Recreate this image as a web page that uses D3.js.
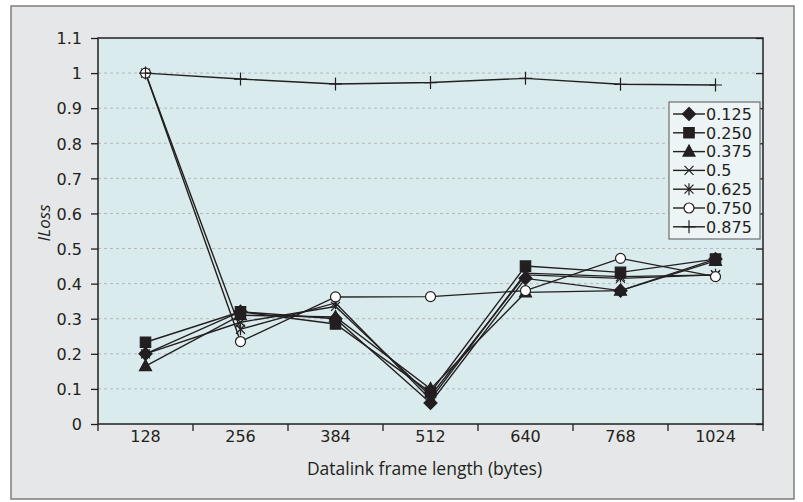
<!DOCTYPE html>
<html>
<head>
<meta charset="utf-8">
<script src="https://cdn.jsdelivr.net/npm/d3@7"></script>
<style>
  body { margin: 0; background: #fff; }
  text { font-family: "Open Sans", "Noto Sans", sans-serif; fill: #231f20; }
  .num { font-family: "DejaVu Sans", sans-serif; }
</style>
</head>
<body>
<div id="chart"></div>
<script>
// frame lengths on the x axis
var frameLengths = ["128", "256", "384", "512", "640", "768", "1024"];
var seriesNames = ["0.125", "0.250", "0.375", "0.5", "0.625", "0.750", "0.875"];
var markerKinds = ["diamond", "square", "triangle", "times", "star", "circle", "plus"];

// ILoss values per series
var s0125 = [0.20, 0.32, 0.30, 0.06, 0.415, 0.38, 0.47];
var s0250 = [0.233, 0.32, 0.285, 0.09, 0.45, 0.432, 0.47];
var s0375 = [0.165, 0.31, 0.305, 0.10, 0.375, 0.38, 0.465];
var s0500 = [0.20, 0.29, 0.335, 0.08, 0.425, 0.415, 0.425];
var s0625 = [1.0, 0.27, 0.345, 0.07, 0.43, 0.42, 0.425];
var s0750 = [1.0, 0.235, 0.362, 0.363, 0.38, 0.472, 0.42];
var s0875 = [1.0, 0.983, 0.969, 0.973, 0.985, 0.968, 0.966];
var seriesValues = [s0125, s0250, s0375, s0500, s0625, s0750, s0875];

var yTicks = [0, 0.1, 0.2, 0.3, 0.4, 0.5, 0.6, 0.7, 0.8, 0.9, 1, 1.1];

var W = 803, H = 502;
var plot = {left: 98, right: 763, top: 38, bottom: 424};
var ink = "#231f20";

var svg = d3.select("#chart").append("svg")
    .attr("width", W)
    .attr("height", H);

// outer grey panel
svg.append("rect")
    .attr("x", 11).attr("y", 6)
    .attr("width", 783).attr("height", 493)
    .attr("fill", "#e6e7e8")
    .attr("stroke", "#7d7d7d")
    .attr("stroke-width", 1.5);

var x = d3.scaleBand()
    .domain(frameLengths)
    .range([plot.left, plot.right]);

var y = d3.scaleLinear()
    .domain([0, 1.1])
    .range([plot.bottom, plot.top]);

// plot background
svg.append("rect")
    .attr("x", plot.left).attr("y", plot.top)
    .attr("width", plot.right - plot.left)
    .attr("height", plot.bottom - plot.top)
    .attr("fill", "#daebee");

// dotted grid lines
svg.append("g").selectAll("line")
    .data(yTicks.filter(function(d){ return d > 0 && d < 1.1; }))
    .enter().append("line")
    .attr("x1", plot.left).attr("x2", plot.right)
    .attr("y1", function(d){ return y(d); })
    .attr("y2", function(d){ return y(d); })
    .attr("stroke", "#b4b9bb")
    .attr("stroke-width", 1)
    .attr("stroke-dasharray", "3,3");

// left axis
var yAxis = d3.axisLeft(y).tickValues(yTicks).tickSize(7).tickPadding(9)
    .tickFormat(function(d){ return d3.format("~g")(d); });
var gy = svg.append("g")
    .attr("transform", "translate(" + plot.left + ",0)")
    .call(yAxis);
gy.select(".domain").remove();
gy.selectAll(".tick line").attr("stroke", ink).attr("stroke-width", 1.3);
gy.selectAll(".tick text").attr("class", "num").style("font-size", "16px").attr("fill", ink).attr("dy", "0.36em");

// right axis, ticks pointing in
var gr = svg.append("g")
    .attr("transform", "translate(" + plot.right + ",0)")
    .call(d3.axisLeft(y).tickValues(yTicks).tickSize(7).tickFormat(""));
gr.select(".domain").remove();
gr.selectAll(".tick line").attr("stroke", ink).attr("stroke-width", 1.3);

// bottom axis: labels centred, ticks at band edges
var gx = svg.append("g")
    .attr("transform", "translate(0," + plot.bottom + ")")
    .call(d3.axisBottom(x).tickSize(0).tickPadding(6));
gx.select(".domain").remove();
gx.selectAll(".tick text").attr("class", "num").style("font-size", "16px").attr("fill", ink).attr("dy", "0.76em");

var edges = frameLengths.map(function(d){ return x(d); }).concat([plot.right]);
svg.append("g").selectAll("line")
    .data(edges)
    .enter().append("line")
    .attr("x1", function(d){ return d; }).attr("x2", function(d){ return d; })
    .attr("y1", plot.bottom).attr("y2", plot.bottom + 7)
    .attr("stroke", ink).attr("stroke-width", 1.3);

// plot border
svg.append("rect")
    .attr("x", plot.left).attr("y", plot.top)
    .attr("width", plot.right - plot.left)
    .attr("height", plot.bottom - plot.top)
    .attr("fill", "none")
    .attr("stroke", ink)
    .attr("stroke-width", 1.5);

// axis titles
svg.append("text")
    .attr("x", (plot.left + plot.right) / 2 - 6)
    .attr("y", 475)
    .attr("text-anchor", "middle")
    .style("font-size", "17.5px")
    .text("Datalink frame length (bytes)");

svg.append("text")
    .attr("transform", "translate(50,223) rotate(-90)")
    .attr("text-anchor", "middle")
    .style("font-size", "17px")
    .style("font-style", "italic")
    .text("ILoss");

// markers drawn as small paths
function markerPath(kind) {
    var p = d3.path();
    if (kind == "diamond") {
        p.moveTo(0, -6.5); p.lineTo(6.5, 0); p.lineTo(0, 6.5); p.lineTo(-6.5, 0); p.closePath();
    } else if (kind == "square") {
        p.rect(-5.2, -5.2, 10.4, 10.4);
    } else if (kind == "triangle") {
        p.moveTo(0, -6.5); p.lineTo(6, 4.5); p.lineTo(-6, 4.5); p.closePath();
    } else if (kind == "times") {
        p.moveTo(-4.5, -4.5); p.lineTo(4.5, 4.5); p.moveTo(4.5, -4.5); p.lineTo(-4.5, 4.5);
    } else if (kind == "star") {
        p.moveTo(-4.5, -4.5); p.lineTo(4.5, 4.5); p.moveTo(4.5, -4.5); p.lineTo(-4.5, 4.5);
        p.moveTo(0, -6); p.lineTo(0, 6);
    } else if (kind == "circle") {
        p.arc(0, 0, 5, 0, 2 * Math.PI);
    } else if (kind == "plus") {
        p.moveTo(-6.5, 0); p.lineTo(6.5, 0); p.moveTo(0, -6.5); p.lineTo(0, 6.5);
    }
    return p.toString();
}
function markerFill(kind) {
    if (kind == "circle") return "#ffffff";
    if (kind == "times" || kind == "star" || kind == "plus") return "none";
    return ink;
}

var line = d3.line()
    .x(function(d, i){ return x(frameLengths[i]) + x.bandwidth() / 2; })
    .y(function(d){ return y(d); });

var series = seriesNames.map(function(name, i){
    return {name: name, kind: markerKinds[i], values: seriesValues[i]};
});

var gSeries = svg.append("g").selectAll("g")
    .data(series)
    .enter().append("g");

gSeries.append("path")
    .attr("d", function(d){ return line(d.values); })
    .attr("fill", "none")
    .attr("stroke", ink)
    .attr("stroke-width", 1.4);

gSeries.selectAll(".mk")
    .data(function(d){ return d.values.map(function(v, i){ return {kind: d.kind, v: v, i: i}; }); })
    .enter().append("path")
    .attr("class", "mk")
    .attr("transform", function(d){
        return "translate(" + (x(frameLengths[d.i]) + x.bandwidth() / 2) + "," + y(d.v) + ")";
    })
    .attr("d", function(d){ return markerPath(d.kind); })
    .attr("fill", function(d){ return markerFill(d.kind); })
    .attr("stroke", ink)
    .attr("stroke-width", 1.2);

// legend
var legend = {left: 669, top: 102, right: 760, bottom: 239, row0: 114, step: 18.8};
svg.append("rect")
    .attr("x", legend.left).attr("y", legend.top)
    .attr("width", legend.right - legend.left)
    .attr("height", legend.bottom - legend.top)
    .attr("fill", "#ecf4f6")
    .attr("stroke", "#6f6f6f")
    .attr("stroke-width", 1.2);

var rows = svg.append("g").selectAll("g")
    .data(series)
    .enter().append("g")
    .attr("transform", function(d, i){ return "translate(0," + (legend.row0 + i * legend.step) + ")"; });

rows.append("line")
    .attr("x1", 673).attr("x2", 705)
    .attr("stroke", ink).attr("stroke-width", 1.4);

rows.append("path")
    .attr("transform", "translate(689,0)")
    .attr("d", function(d){ return markerPath(d.kind); })
    .attr("fill", function(d){ return markerFill(d.kind); })
    .attr("stroke", ink)
    .attr("stroke-width", 1.2);

rows.append("text")
    .attr("class", "num")
    .attr("x", 706)
    .attr("dy", "0.36em")
    .style("font-size", "16px")
    .text(function(d){ return d.name; });
</script>
</body>
</html>
